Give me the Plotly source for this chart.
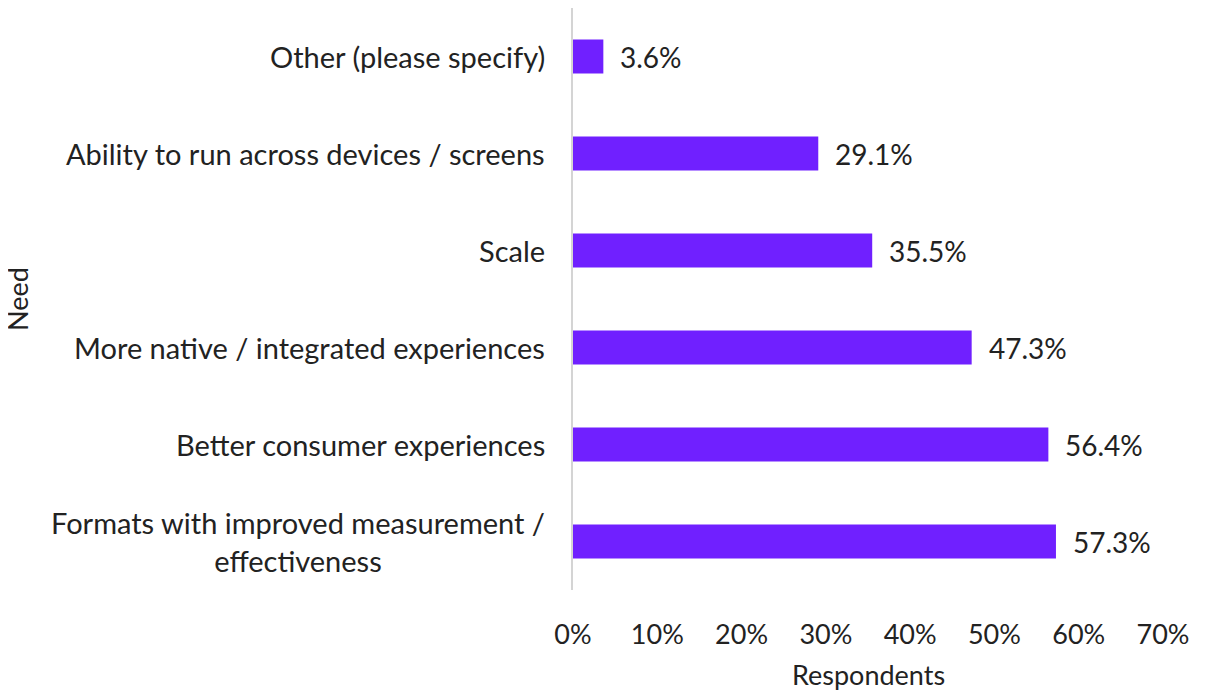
import plotly.graph_objects as go

categories = [
    "Formats with improved measurement /<br>effectiveness",
    "Better consumer experiences",
    "More native / integrated experiences",
    "Scale",
    "Ability to run across devices / screens",
    "Other (please specify)",
]
values = [0.573, 0.564, 0.473, 0.355, 0.291, 0.036]
value_labels = ["57.3%", "56.4%", "47.3%", "35.5%", "29.1%", "3.6%"]
x_ticks = [0, 0.1, 0.2, 0.3, 0.4, 0.5, 0.6, 0.7]
x_tick_labels = ["0%", "10%", "20%", "30%", "40%", "50%", "60%", "70%"]

FONT = "Lato"
TXT = "#222222"
BAR = "#7020FF"
PLOT_W = 590

fig = go.Figure()
fig.add_trace(go.Bar(
    x=values, y=list(range(len(categories))), orientation="h",
    marker=dict(color=BAR, line=dict(width=0)),
    width=0.35, hoverinfo="skip",
))

annotations = []
for i, (v, lab) in enumerate(zip(values, value_labels)):
    annotations.append(dict(x=v, y=i, xref="x", yref="y", text=lab, showarrow=False,
                            xanchor="left", yanchor="middle", xshift=15,
                            font=dict(family=FONT, size=28, color=TXT)))
for i, c in enumerate(categories):
    annotations.append(dict(x=0, y=i, xref="paper", yref="y", text=c, showarrow=False,
                            xanchor="right", yanchor="middle", xshift=-26, align="center",
                            font=dict(family=FONT, size=29, color=TXT)))
annotations.append(dict(x=-(573 - 17) / PLOT_W, y=0.5, xref="paper", yref="paper", text="Need",
                        showarrow=False, textangle=-90, xanchor="center", yanchor="middle",
                        font=dict(family=FONT, size=27, color=TXT)))
annotations.append(dict(x=0.5, y=0, xref="paper", yref="paper", text="Respondents",
                        showarrow=False, xanchor="center", yanchor="middle", yshift=-84,
                        font=dict(family=FONT, size=27, color=TXT)))

fig.update_layout(
    width=1197, height=684,
    margin=dict(l=565, r=42, t=0, b=102, autoexpand=False),
    paper_bgcolor="white", plot_bgcolor="white",
    showlegend=False,
    annotations=annotations,
    xaxis=dict(range=[0, 0.7], tickvals=x_ticks, ticktext=x_tick_labels,
               showgrid=False, zeroline=False, showline=False, ticks="",
               ticklabelstandoff=26,
               tickfont=dict(family=FONT, size=27, color=TXT),
               automargin=False, fixedrange=True),
    yaxis=dict(range=[-0.5, len(categories) - 0.5], showticklabels=False,
               showgrid=False, zeroline=False, showline=True, linecolor="#D4D4D4",
               linewidth=2, ticks="", automargin=False, fixedrange=True),
)

fig.write_html("out.html")
